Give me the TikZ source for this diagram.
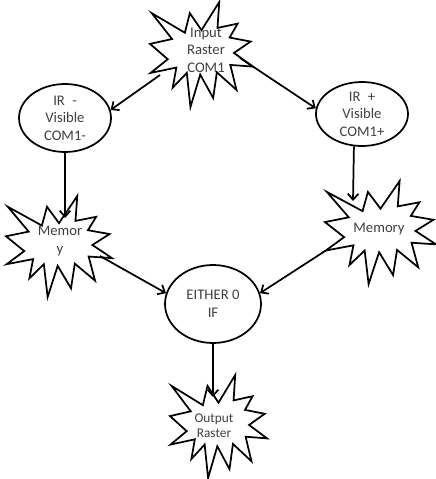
\documentclass[tikz,border=0pt]{standalone}
\usepackage{fontspec}
\setmainfont{Carlito}
\usetikzlibrary{arrows.meta,shapes.geometric}
\newcommand\explosion[4]{%
  \draw[starline,shift={(#1,#2)},xscale=#3,yscale=#4]
  (0.5,0.2685) -- (0.3867,0.1063) -- (0.3385,0.2926) -- (0.0171,0.1063) --
  (0.2142,0.3526) -- (0,0.3988) -- (0.1723,0.5451) -- (0.00625,0.6753) --
  (0.2561,0.6244) -- (0.2205,0.8156) -- (0.3572,0.6753) -- (0.3928,1) --
  (0.4876,0.6914) -- (0.6133,0.9138) -- (0.6491,0.6693) -- (0.8400,0.8377) --
  (0.7795,0.5992) -- (1,0.6153) -- (0.8151,0.4850) -- (0.9767,0.3767) --
  (0.7732,0.3387) -- (0.8509,0.2063) -- (0.6553,0.2465) -- (0.6723,0) -- cycle;}
\begin{document}
\begin{tikzpicture}[x=0.75pt,y=-0.75pt,
  starline/.style={draw=black,line width=1.3pt,fill=white,line join=miter},
  oval/.style={ellipse,draw=black,line width=1.3pt,fill=white,inner sep=0pt,
    align=center,text=black!75,font=\fontsize{11}{13.2}\selectfont},
  txt/.style={align=center,text=black!75,inner sep=0pt,font=\fontsize{11}{13.2}\selectfont},
  arr/.style={line width=1.3pt,-{Straight Barb[length=4.5pt,width=8pt]}}]
\useasboundingbox (0,0) rectangle (436,479);
% explosion shapes
\explosion{150}{2}{103}{105}
\explosion{6}{196}{106}{101}
\explosion{325}{181}{111}{103}
\explosion{170}{375}{97}{103}
% texts in explosions
\node[txt] (inraster) at (206,50) {Input\\Raster\\COM1};
\node[txt] (meml) at (60,241) {Memor\\y};
\node[txt] (memr) at (379,229) {Memory};
\node[txt,font=\fontsize{10}{11.4}\selectfont] (outraster) at (214,426) {Output\\Raster};
% ellipses
\node[oval,minimum width=69pt,minimum height=51pt] (irm) at (65,118) {IR\enspace-\\Visible\\COM1-};
\node[oval,minimum width=69pt,minimum height=48pt] (irp) at (362,114) {IR\enspace+\\Visible\\COM1+};
\node[oval,minimum width=72pt,minimum height=58.5pt] (eif) at (213,304) {EITHER 0\\IF};
% connector ends
\coordinate (s1) at (160,75);
\coordinate (s2) at (240,58);
\coordinate (t3) at (65,218);
\coordinate (t4) at (353,201);
\coordinate (s5) at (100,256);
\coordinate (s6) at (325.7,250.6);
\coordinate (t7) at (213,397);
% connectors
\draw[arr] (s1) -- (irm.10);
\draw[arr] (s2) -- (irp.173);
\draw[arr] (irm) -- (t3);
\draw[arr] (irp.-104) -- (t4);
\draw[arr] (s5) -- (eif.167);
\draw[arr] (s6) -- (eif.13);
\draw[arr] (eif) -- (t7);
\end{tikzpicture}
\end{document}
